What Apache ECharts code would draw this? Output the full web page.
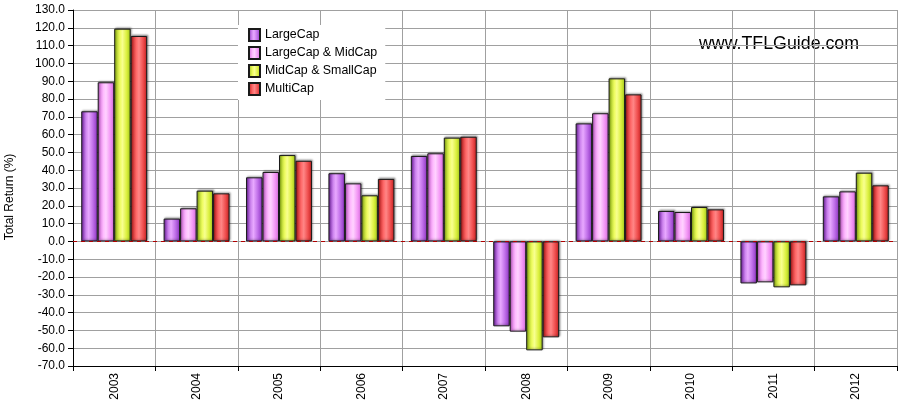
<!DOCTYPE html>
<html>
<head>
<meta charset="utf-8">
<script src="https://cdn.jsdelivr.net/npm/echarts@6/dist/echarts.min.js"></script>
<style>html,body{margin:0;padding:0;background:#fff}#c{width:900px;height:406px}</style>
</head>
<body>
<div id="c"></div>
<script>
const years = ['2003','2004','2005','2006','2007','2008','2009','2010','2011','2012'];
const seriesNames = ['LargeCap','LargeCap & MidCap','MidCap & SmallCap','MultiCap'];
const largeCap      = [73.1, 12.8, 36.0, 38.3, 48.0, -47.7, 66.3, 17.1, -23.6, 25.3];
const largeMidCap   = [89.4, 18.6, 39.0, 32.6, 49.5, -50.7, 72.0, 16.5, -23.0, 28.1];
const midSmallCap   = [119.5, 28.5, 48.5, 25.9, 58.3, -61.2, 91.6, 19.3, -25.8, 38.6];
const multiCap      = [115.4, 27.0, 45.3, 35.1, 58.8, -53.9, 82.6, 18.0, -24.7, 31.5];
const yMin = -70, yMax = 130, yStep = 10;
const axisTitle = 'Total Return (%)';
const watermark = 'www.TFLGuide.com';

const FONT = '"Liberation Sans", Arial, sans-serif';
function grad(stops) {
  return new echarts.graphic.LinearGradient(0, 0, 1, 0,
    stops.map(s => ({offset: s[0], color: s[1]})));
}
const fills = [
  grad([[0,'#7a22b0'],[0.3,'#d088f0'],[0.45,'#e8a8ff'],[0.7,'#c272ea'],[1,'#8a30c0']]),
  grad([[0,'#d060d8'],[0.35,'#ffbcff'],[0.5,'#ffd2ff'],[0.75,'#f49af6'],[1,'#d468dc']]),
  grad([[0,'#94bc10'],[0.35,'#eefc60'],[0.5,'#f8ff90'],[0.75,'#dcf040'],[1,'#a0c818']]),
  grad([[0,'#bc1616'],[0.35,'#ff6a6a'],[0.5,'#ff8686'],[0.75,'#f05050'],[1,'#c41e1e']])
];
const dataSets = [largeCap, largeMidCap, midSmallCap, multiCap];

const series = seriesNames.map((name, i) => ({
  name: name,
  type: 'bar',
  data: dataSets[i],
  barGap: '0%',
  barCategoryGap: '20%',
  itemStyle: {
    color: fills[i],
    borderColor: '#1a1a1a',
    borderWidth: 1,
    shadowColor: 'rgba(0,0,0,0.35)',
    shadowBlur: 2,
    shadowOffsetX: 1,
    shadowOffsetY: -1
  },
  markLine: i === 0 ? {
    silent: true,
    symbol: ['none','none'],
    label: {show: false},
    lineStyle: {color: '#b00000', type: [4,4], width: 1},
    data: [{yAxis: 0}],
    z: 10
  } : undefined
}));

const chart = echarts.init(document.getElementById('c'));
chart.setOption({
  animation: false,
  backgroundColor: '#fff',
  textStyle: {fontFamily: FONT},
  grid: {left: 73, top: 10, right: 3, bottom: 40, containLabel: false},
  legend: {
    orient: 'vertical',
    left: 238, top: 25,
    padding: [3, 8, 4, 10],
    backgroundColor: '#fff',
    icon: 'rect',
    itemWidth: 11, itemHeight: 12, itemGap: 4,
    textStyle: {fontFamily: FONT, fontSize: 12.4, color: '#000'},
    data: seriesNames
  },
  xAxis: {
    type: 'category',
    data: years,
    boundaryGap: true,
    axisLine: {onZero: false, lineStyle: {color: '#000'}},
    axisTick: {show: true, length: 5, lineStyle: {color: '#000'}},
    axisLabel: {rotate: 90, fontFamily: FONT, fontSize: 12, color: '#000', margin: 7},
    splitLine: {show: true, lineStyle: {color: '#a0a0a0'}}
  },
  yAxis: {
    type: 'value',
    min: yMin, max: yMax, interval: yStep,
    axisLine: {show: true, lineStyle: {color: '#000'}},
    axisTick: {show: true, length: 5, lineStyle: {color: '#000'}},
    axisLabel: {fontFamily: FONT, fontSize: 12, color: '#000', margin: 8,
      formatter: v => v.toFixed(1)},
    splitLine: {show: true, lineStyle: {color: '#a0a0a0'}}
  },
  graphic: [{
    type: 'group',
    left: 698, top: 27,
    children: [
      {type: 'rect', shape: {x: 0, y: 0, width: 177, height: 50}, style: {fill: '#fff'}},
      {type: 'text', x: 1, y: 17, style: {text: watermark, fontFamily: FONT, fontSize: 17.8, fill: '#000', textVerticalAlign: 'middle'}}
    ]
  }, {
    type: 'text',
    x: 10, y: 197,
    rotation: Math.PI / 2,
    style: {text: axisTitle, fontFamily: FONT, fontSize: 12, fill: '#000', textAlign: 'center', textVerticalAlign: 'middle'}
  }],
  series: series
});
</script>
</body>
</html>
